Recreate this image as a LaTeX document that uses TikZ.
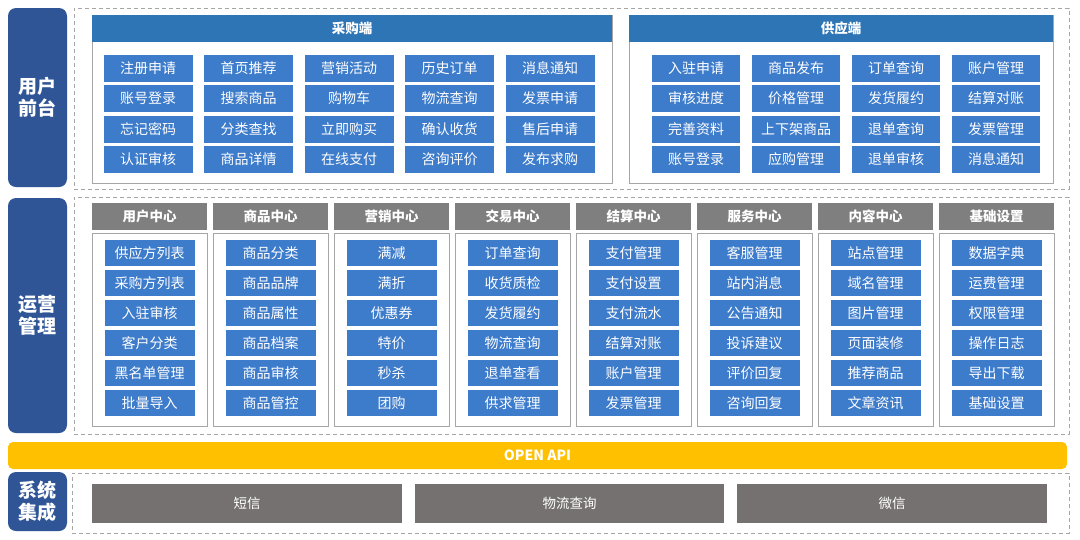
\documentclass[tikz,border=0pt]{standalone}
\usepackage{fontspec}
\setmainfont{Noto Sans CJK SC}
\usetikzlibrary{positioning}
\definecolor{NavyLabel}{HTML}{2F5597}
\definecolor{HeadBlue}{HTML}{2E75B6}
\definecolor{ItemBlue}{HTML}{3D7BCB}
\definecolor{HeadGray}{HTML}{7F7F7F}
\definecolor{SysGray}{HTML}{767171}
\definecolor{ApiYellow}{HTML}{FFC000}
\definecolor{LineGray}{HTML}{A6A6A6}

\tikzset{
  layerlbl/.style={fill=NavyLabel, rounded corners=8pt, text=white, align=center, inner sep=0pt,
    font=\fontsize{19}{22}\selectfont\bfseries, minimum width=59pt},
  zone/.style={draw=LineGray, dash pattern=on 4pt off 3pt, line width=0.8pt, inner sep=0pt},
  panel/.style={draw=LineGray, fill=white, line width=0.8pt, inner sep=0pt},
  phead/.style={fill=HeadBlue, text=white, inner sep=0pt, font=\fontsize{13.5}{15}\selectfont\bfseries},
  itembox/.style={fill=ItemBlue, text=white, inner sep=0pt, font=\fontsize{14}{16}\selectfont},
  chead/.style={fill=HeadGray, text=white, inner sep=0pt, minimum width=115pt, minimum height=27pt,
    font=\fontsize{13.5}{15}\selectfont\bfseries},
  sysbox/.style={fill=SysGray, text=white, inner sep=0pt, minimum width=310pt, minimum height=39pt,
    font=\fontsize{13.5}{15}\selectfont}
}

\begin{document}
\begin{tikzpicture}[x=1pt, y=-1pt]
  \useasboundingbox[fill=white] (0,0) rectangle (1080,539);

  % layer labels
  \node[layerlbl, minimum height=179pt] (front) at (37.5,97.5) {用户\\前台};
  \node[layerlbl, minimum height=235pt] (ops) at (37.5,315.5) {运营\\管理};
  \node[layerlbl, minimum height=59pt] (integ) at (37.5,501.5) {系统\\集成};

  % dashed zones
  \node[zone, minimum width=995pt, minimum height=181pt] (zfront) at (571.5,98.5) {};
  \node[zone, minimum width=995pt, minimum height=237pt] (zops) at (571.5,315.5) {};
  \node[zone, minimum width=997pt, minimum height=60pt] (zinteg) at (570.5,503) {};

  % buyer side
  \node[panel, minimum width=520pt, minimum height=168pt] (buyer) at (352,99) {};
  \node[phead, minimum width=520pt, minimum height=27pt] (buyerhd) at (352,28.5) {采购端};
  \foreach \lst [count=\c from 0] in {
      {注册申请,账号登录,忘记密码,认证审核},
      {首页推荐,搜索商品,分类查找,商品详情},
      {营销活动,购物车,立即购买,在线支付},
      {历史订单,物流查询,确认收货,咨询评价},
      {消息通知,发票申请,售后申请,发布求购}}
    \foreach \t [count=\r from 0] in \lst
      \node[itembox, minimum width=89pt, minimum height=27pt] (b\c-\r) at (148+100.5*\c, 68+30.5*\r) {\t};

  % supplier side
  \node[panel, minimum width=424pt, minimum height=168pt] (supplier) at (841,99) {};
  \node[phead, minimum width=424pt, minimum height=27pt] (supplierhd) at (841,28.5) {供应端};
  \foreach \lst [count=\c from 0] in {
      {入驻申请,审核进度,完善资料,账号登录},
      {商品发布,价格管理,上下架商品,应购管理},
      {订单查询,发货履约,退单查询,退单审核},
      {账户管理,结算对账,发票管理,消息通知}}
    \foreach \t [count=\r from 0] in \lst
      \node[itembox, minimum width=88pt, minimum height=27pt] (s\c-\r) at (696+100*\c, 68+30.5*\r) {\t};

  % operation centres
  \foreach \hd/\lst [count=\c from 0] in {
      用户中心/{供应方列表,采购方列表,入驻审核,客户分类,黑名单管理,批量导入},
      商品中心/{商品分类,商品品牌,商品属性,商品档案,商品审核,商品管控},
      营销中心/{满减,满折,优惠券,特价,秒杀,团购},
      交易中心/{订单查询,收货质检,发货履约,物流查询,退单查看,供求管理},
      结算中心/{支付管理,支付设置,支付流水,结算对账,账户管理,发票管理},
      服务中心/{客服管理,站内消息,公告通知,投诉建议,评价回复,咨询回复},
      内容中心/{站点管理,域名管理,图片管理,页面装修,推荐商品,文章资讯},
      基础设置/{数据字典,运费管理,权限管理,操作日志,导出下载,基础设置}} {
    \node[chead] (h\c) at (149.5+121*\c, 216.5) {\hd};
    \node[panel, minimum width=115pt, minimum height=193pt] (col\c) at (149.5+121*\c, 329.5) {};
    \foreach \t [count=\r from 0] in \lst
      \node[itembox, minimum width=90pt, minimum height=26pt] (o\c-\r) at (149.5+121*\c, 253+30*\r) {\t};
  }

  % open api bar
  \node[fill=ApiYellow, rounded corners=5pt, text=white, minimum width=1059pt, minimum height=27pt,
    inner sep=0pt, font=\fontsize{14}{16}\selectfont\bfseries] (api) at (537.5,455.5) {OPEN API};

  % integrations
  \node[sysbox] (sms) at (247,503.5) {短信};
  \node[sysbox, minimum width=309pt] (logis) at (569.5,503.5) {物流查询};
  \node[sysbox] (wechat) at (892,503.5) {微信};
\end{tikzpicture}
\end{document}
